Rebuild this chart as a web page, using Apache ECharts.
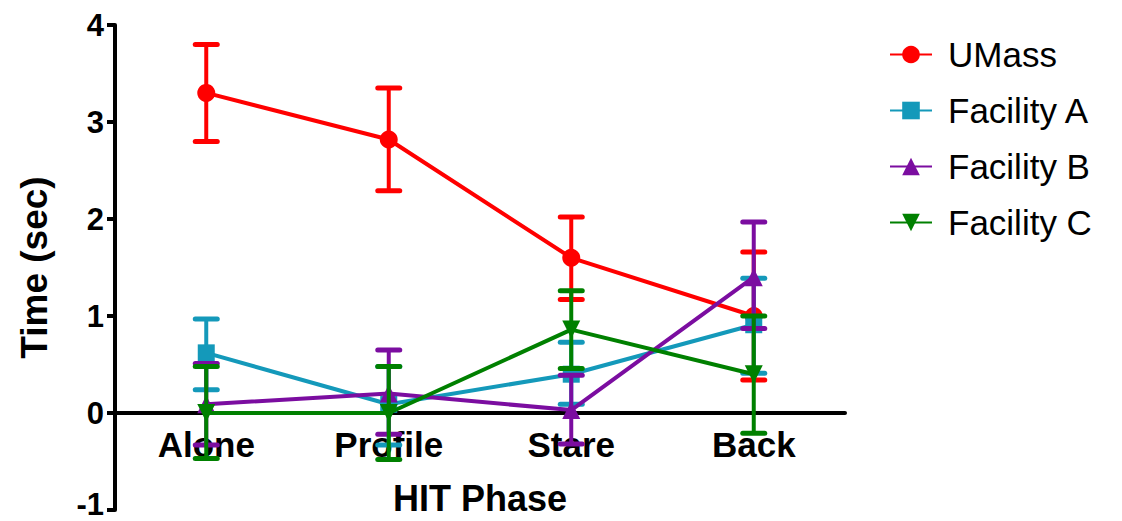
<!DOCTYPE html>
<html>
<head>
<meta charset="utf-8">
<script src="https://cdn.jsdelivr.net/npm/echarts@6/dist/echarts.min.js"></script>
<style>html,body{margin:0;padding:0;background:#fff}#c{width:1122px;height:521px}</style>
</head>
<body>
<div id="c"></div>
<script>
const categories = ['Alone', 'Profile', 'Stare', 'Back'];
const seriesNames = ['UMass', 'Facility A', 'Facility B', 'Facility C'];
const yTicks = [-1, 0, 1, 2, 3, 4];

const umassMean = [3.30, 2.82, 1.60, 1.00];
const umassLow  = [2.80, 2.29, 1.17, 0.34];
const umassHigh = [3.80, 3.35, 2.02, 1.66];

const aMean = [0.62, 0.09, 0.40, 0.91];
const aLow  = [0.24, -0.33, 0.09, 0.41];
const aHigh = [0.97, 0.48, 0.73, 1.39];

const bMean = [0.09, 0.20, 0.03, 1.40];
const bLow  = [-0.33, -0.22, -0.32, 0.87];
const bHigh = [0.51, 0.65, 0.39, 1.97];

const cMean = [0.00, 0.00, 0.86, 0.40];
const cLow  = [-0.47, -0.48, 0.46, -0.21];
const cHigh = [0.48, 0.48, 1.26, 1.00];

const colors = ['#FF0000', '#1499BA', '#7B0DA0', '#008000'];
const means = [umassMean, aMean, bMean, cMean];
const lows = [umassLow, aLow, bLow, cLow];
const highs = [umassHigh, aHigh, bHigh, cHigh];
const symbols = ['circle', 'rect', 'triangle', 'triangle'];
const symbolRotates = [0, 0, 0, 180];
const symbolSizes = [18, 17, 18, 18];

const font = 'Liberation Sans, Arial, sans-serif';

const gridTop = 25, gridBottom = 11, chartH = 521;
const yMin = yTicks[0], yMax = yTicks[yTicks.length - 1];
// shift the x axis (line + labels + name) from the grid bottom up to y = 0
const xAxisOffset = -((chartH - gridTop - gridBottom) * (0 - yMin) / (yMax - yMin));

function errorRender(color) {
  return function (params, api) {
    const x = api.value(0);
    const lo = api.coord([x, api.value(1)]);
    const hi = api.coord([x, api.value(2)]);
    const hw = 11;
    return {
      type: 'group',
      children: [
        { type: 'line', shape: { x1: lo[0], y1: lo[1], x2: hi[0], y2: hi[1] }, style: { stroke: color, lineWidth: 4 } },
        { type: 'line', shape: { x1: hi[0] - hw, y1: hi[1], x2: hi[0] + hw, y2: hi[1] }, style: { stroke: color, lineWidth: 5, lineCap: 'round' } },
        { type: 'line', shape: { x1: lo[0] - hw, y1: lo[1], x2: lo[0] + hw, y2: lo[1] }, style: { stroke: color, lineWidth: 5, lineCap: 'round' } }
      ]
    };
  };
}

const series = [];
seriesNames.forEach(function (name, i) {
  series.push({
    name: name + ' err',
    type: 'custom',
    renderItem: errorRender(colors[i]),
    encode: { x: 0, y: [1, 2] },
    data: categories.map(function (c, k) { return [k, lows[i][k], highs[i][k]]; }),
    z: 2 + i * 2,
    silent: true,
    clip: false
  });
  series.push({
    name: name,
    type: 'line',
    data: means[i],
    color: colors[i],
    symbol: symbols[i],
    symbolSize: symbolSizes[i],
    symbolRotate: symbolRotates[i],
    showAllSymbol: true,
    lineStyle: { width: 4, color: colors[i] },
    itemStyle: { color: colors[i] },
    z: 3 + i * 2,
    animation: false
  });
});

const chart = echarts.init(document.getElementById('c'), null, { renderer: 'svg' });
chart.setOption({
  animation: false,
  backgroundColor: '#fff',
  grid: { left: 115, right: 277, top: gridTop, bottom: gridBottom, containLabel: false, outerBoundsMode: 'none' },
  legend: {
    data: seriesNames,
    orient: 'vertical',
    left: 884,
    top: 32,
    itemWidth: 42,
    itemHeight: 22,
    itemGap: 21,
    textStyle: { fontFamily: font, fontSize: 35, color: '#000', padding: [0, 0, 0, 11] }
  },
  xAxis: {
    type: 'category',
    data: categories,
    boundaryGap: true,
    offset: xAxisOffset,
    axisLine: { onZero: false, lineStyle: { color: '#000', width: 4 } },
    axisTick: { show: false },
    axisLabel: { fontFamily: font, fontSize: 35, fontWeight: 'bold', color: '#000', margin: 14 },
    name: 'HIT Phase',
    nameLocation: 'middle',
    nameGap: 67,
    nameTextStyle: { fontFamily: font, fontSize: 36, fontWeight: 'bold', color: '#000' },
    splitLine: { show: false }
  },
  yAxis: {
    type: 'value',
    min: yMin,
    max: yMax,
    interval: 1,
    axisLine: { show: true, lineStyle: { color: '#000', width: 4 } },
    axisTick: { show: true, length: 8, lineStyle: { color: '#000', width: 4 } },
    axisLabel: {
      fontFamily: font, fontSize: 31, lineHeight: 22, fontWeight: 'bold', color: '#000', margin: 11,
      formatter: function (v) { return v === yMin ? '{m|' + v + '}' : String(v); },
      rich: { m: { fontFamily: font, fontSize: 31, lineHeight: 22, fontWeight: 'bold', color: '#000', padding: [0, 0, 12, 0] } }
    },
    splitLine: { show: false },
    name: 'Time (sec)',
    nameLocation: 'middle',
    nameGap: 62,
    nameTextStyle: { fontFamily: font, fontSize: 37, fontWeight: 'bold', color: '#000' }
  },
  series: series
});
</script>
</body>
</html>
